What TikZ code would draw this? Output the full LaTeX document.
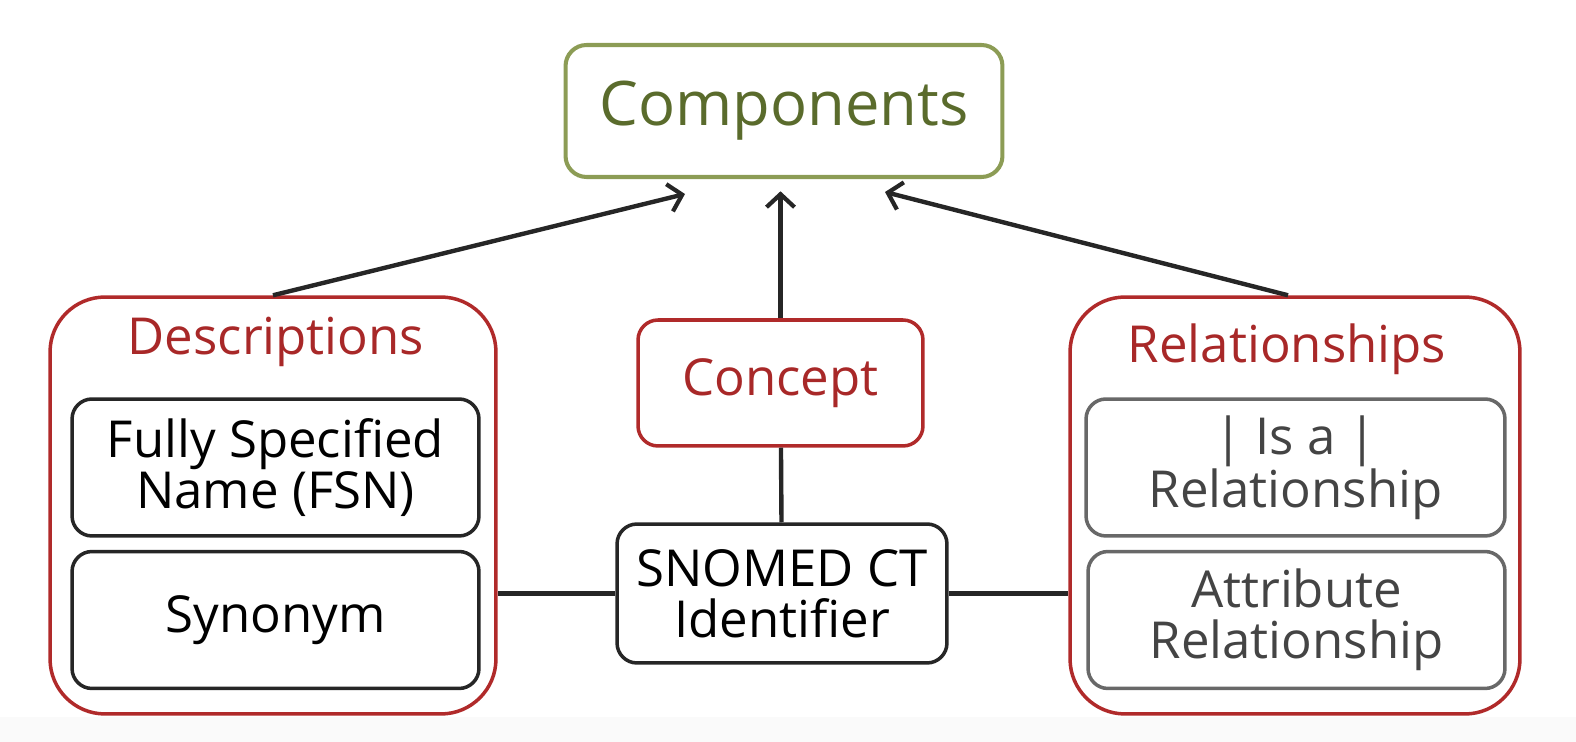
\documentclass[tikz,border=0pt]{standalone}
\usepackage{fontspec}
\setmainfont{Open Sans}
\usetikzlibrary{arrows.meta, calc, positioning}
\definecolor{olivebox}{HTML}{8C9C55}
\definecolor{olivetext}{HTML}{5A6B2C}
\definecolor{redbox}{HTML}{B02A2A}
\definecolor{redtext}{HTML}{A82828}
\definecolor{graybox}{HTML}{686868}
\definecolor{graytext}{HTML}{444444}

\begin{document}
\begin{tikzpicture}[
    x=0.02cm, y=-0.02cm,
    >={Straight Barb[length=2.6mm,width=5.6mm,line width=2.4pt]},
    every node/.style={font=\fontsize{29}{29}\selectfont, align=center},
    top/.style   ={draw=olivebox, line width=2.3pt, rounded corners=0.42cm,
                   text=olivetext, font=\fontsize{35}{35}\selectfont,
                   minimum width=8.74cm, minimum height=2.64cm},
    group/.style ={draw=redbox, line width=2pt, rounded corners=1.1cm,
                   minimum height=8.34cm},
    title/.style ={text=redtext},
    item/.style  ={draw=black!85, line width=2pt, rounded corners=0.4cm,
                   minimum width=8.14cm, minimum height=2.74cm, inner sep=1pt},
    relitem/.style={item, draw=graybox, text=graytext},
    core/.style  ={draw=redbox, line width=2pt, rounded corners=0.4cm,
                   text=redtext, minimum width=5.7cm, minimum height=2.52cm},
    flow/.style  ={->, line width=2.5pt, black!85},
    link/.style  ={line width=2.5pt, black!85},
]
\useasboundingbox (0,0) rectangle (1576,742);
\fill[black!2] (0,717) rectangle (1576,742);

\node[top] (comp) at (784,111) {Components};

% descriptions group
\node[group, minimum width=8.92cm] (desc) at (273,505.5) {};
\node[title] (desctitle) at (276,342) {Descriptions};
\node[item] (fsn) at (275.5,467.5) {Fully Specified\\Name (FSN)};
\node[item] (syn) at (275.5,620) {Synonym};

% concept and identifier
\node[core] (concept) at (780.5,383) {Concept};
\node[item, minimum width=6.6cm, minimum height=2.78cm] (sctid) at (782,593.5)
     {SNOMED CT\\Identifier};

% relationships group
\node[group, minimum width=9cm] (rel) at (1295,505.5) {};
\node[title] (reltitle) at (1287,349) {Relationships};
\node[relitem, minimum width=8.38cm] (isa) at (1295.5,467.5) {| Is a |\\Relationship};
\node[relitem, minimum width=8.34cm] (attr) at (1296.5,620) {Attribute\\Relationship};

\draw[flow] (desc.north) -- ($(comp.south)+(-99,15)$);
\draw[flow, shorten >=7pt] (concept.north) -- (concept.north |- comp.south);
\draw[flow] ($(rel.north)+(-7,0)$) -- ($(comp.south)+(101,13)$);
\draw[link] (concept) -- (sctid);
\draw[link] (sctid.west) -- (sctid.west -| desc.east);
\draw[link] (sctid.east) -- (sctid.east -| rel.west);
\end{tikzpicture}
\end{document}
